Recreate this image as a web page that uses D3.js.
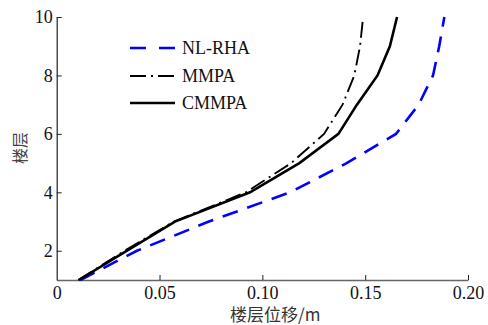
<!DOCTYPE html>
<html><head><meta charset="utf-8">
<script src="https://cdn.jsdelivr.net/npm/d3@7"></script>
<style>body{margin:0;background:#fff}svg{display:block}</style>
</head><body>
<script>
const floors = [1,2,3,4,5,6,7,8,9,10];
const nlrha = [0.0115,0.039,0.074,0.1135,0.141,0.165,0.176,0.183,0.186,0.1885];
const mmpa  = [0.0105,0.033,0.057,0.092,0.114,0.130,0.139,0.1447,0.1475,0.149];
const cmmpa = [0.0108,0.034,0.0575,0.094,0.118,0.137,0.146,0.156,0.162,0.1655];
const xTicks = [0,0.05,0.10,0.15,0.20];
const xTickLabels = ["0","0.05","0.10","0.15","0.20"];
const yTicks = [2,4,6,8,10];
const seriesNames = ["NL-RHA","MMPA","CMMPA"];

const SERIF="'Liberation Serif','Times New Roman',Tinos,'DejaVu Serif',serif";
const W=488,H=325;
const svg=d3.select("body").append("svg").attr("width",W).attr("height",H);
const x=d3.scaleLinear().domain([0,0.2]).range([56.7,468]);
const y=d3.scaleLinear().domain([1,10]).range([280,17]);

// axes
const xAxis=svg.append("g").attr("transform","translate(0,280)")
  .call(d3.axisBottom(x).tickValues(xTicks).tickFormat((d,i)=>xTickLabels[i]).tickSize(-5).tickPadding(6).tickSizeOuter(0));
xAxis.attr("font-family",null);
xAxis.select(".domain").attr("stroke","#666").attr("stroke-width",1.6);
xAxis.selectAll(".tick line").attr("stroke","#222");
xAxis.selectAll("text").style("font-family",SERIF).style("font-size","18px").attr("fill","#111").attr("dy","0.71em");
xAxis.selectAll(".tick").filter(d=>d===0).select("line").remove();

const yAxis=svg.append("g").attr("transform","translate(56.7,0)")
  .call(d3.axisLeft(y).tickValues(yTicks).tickFormat(d3.format("d")).tickSize(-5).tickPadding(4).tickSizeOuter(0));
yAxis.attr("font-family",null);
yAxis.select(".domain").attr("stroke","#222").attr("stroke-width",1.2);
yAxis.selectAll(".tick line").attr("stroke","#222");
yAxis.selectAll("text").style("font-family",SERIF).style("font-size","18px").attr("fill","#111");

// labels
svg.append("text").attr("x",230).attr("y",321)
  .style("font-family","'Noto Sans CJK SC',sans-serif").style("font-size","17px").attr("fill","#333")
  .text("楼层位移/m");
svg.append("text").attr("transform","translate(26,148) rotate(-90)").attr("text-anchor","middle")
  .style("font-family","'Noto Sans CJK SC',sans-serif").style("font-size","16px").attr("fill","#444").text("楼层");

const line=d3.line().x(d=>x(d[0])).y(d=>y(d[1]));
const styles=[
  {data:nlrha,color:"#0000ff",w:2.6,dash:"16,10"},
  {data:mmpa,color:"#000",w:1.9,dash:"16,5,2,5"},
  {data:cmmpa,color:"#000",w:2.6,dash:null}
];
styles.forEach(s=>{
  svg.append("path").datum(s.data.map((v,i)=>[v,floors[i]]))
    .attr("d",line).attr("fill","none").attr("stroke",s.color).attr("stroke-width",s.w)
    .attr("stroke-dasharray",s.dash);
});

// legend
const ly=[48,76,103];
seriesNames.forEach((n,i)=>{
  const s=styles[i];
  svg.append("line").attr("x1",130).attr("x2",175).attr("y1",ly[i]).attr("y2",ly[i])
    .attr("stroke",s.color).attr("stroke-width",s.w).attr("stroke-dasharray",i===0?"16,13":(i===1?"16,5,2,5":null));
  svg.append("text").attr("x",182).attr("y",ly[i]).attr("dy","0.35em")
    .style("font-family",SERIF).style("font-size","18px").attr("fill","#111").text(n);
});
</script>
</body></html>
